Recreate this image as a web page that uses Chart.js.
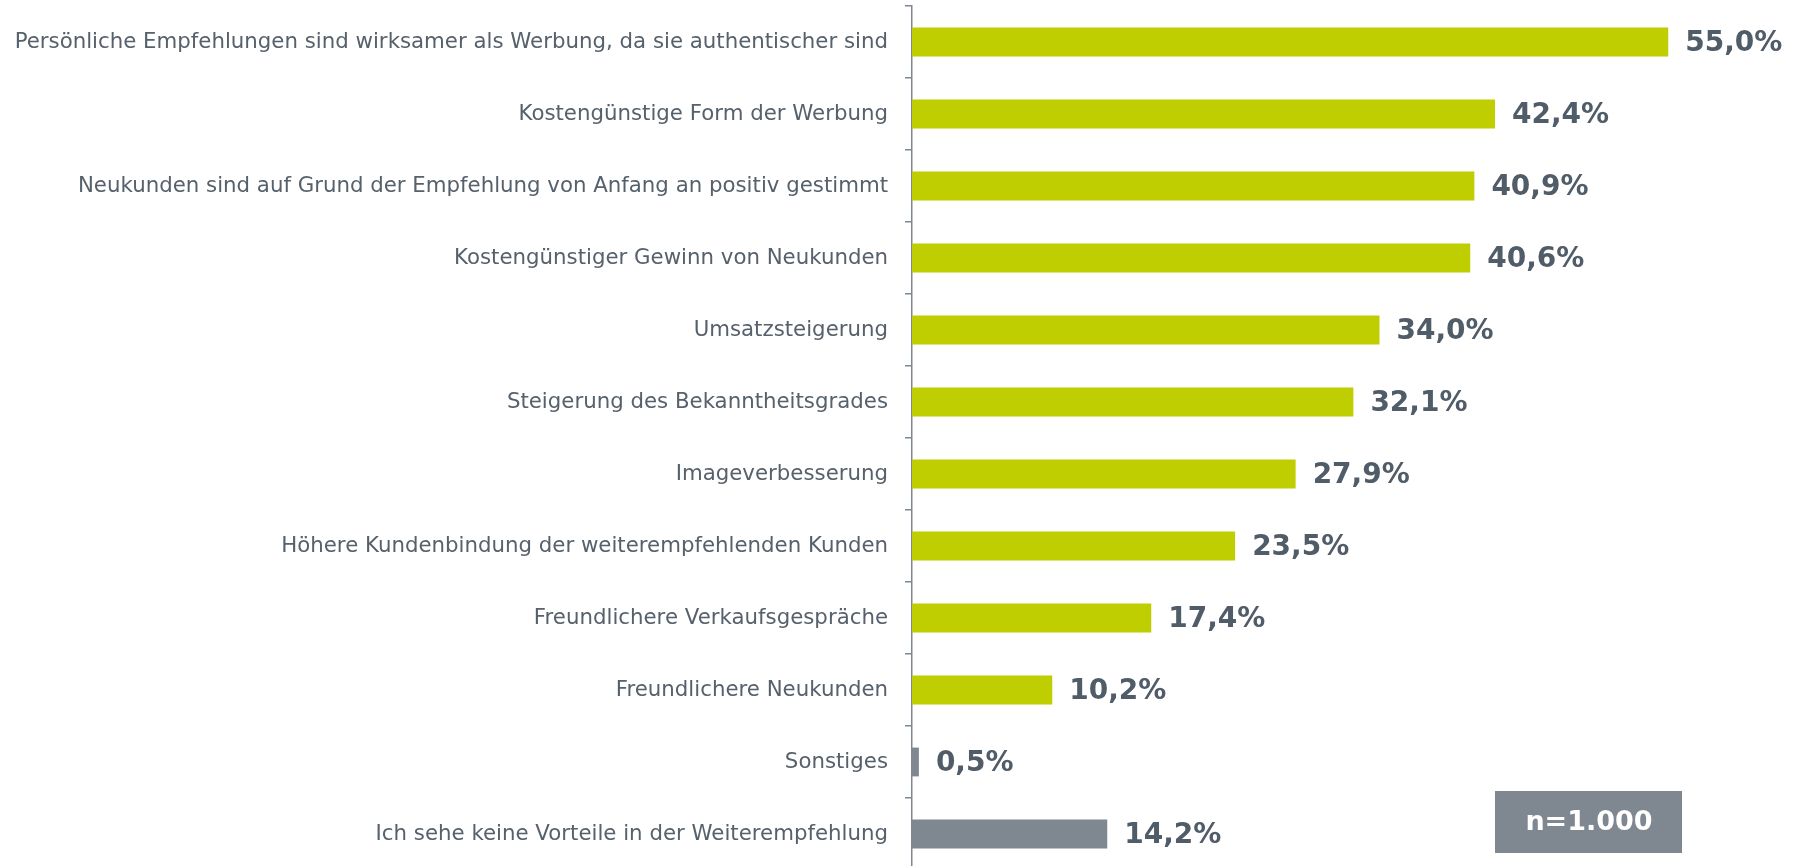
<!DOCTYPE html>
<html>
<head>
<meta charset="utf-8">
<script src="https://cdn.jsdelivr.net/npm/chart.js@4.4.1/dist/chart.umd.min.js"></script>
<style>
  html, body { margin: 0; padding: 0; background: #fff; overflow: hidden; }
  #wrap { position: relative; width: 1799px; height: 872px; }
</style>
</head>
<body>
<div id="wrap"><canvas id="c"></canvas></div>
<script>
const categories = [
  "Persönliche Empfehlungen sind wirksamer als Werbung, da sie authentischer sind",
  "Kostengünstige Form der Werbung",
  "Neukunden sind auf Grund der Empfehlung von Anfang an positiv gestimmt",
  "Kostengünstiger Gewinn von Neukunden",
  "Umsatzsteigerung",
  "Steigerung des Bekanntheitsgrades",
  "Imageverbesserung",
  "Höhere Kundenbindung der weiterempfehlenden Kunden",
  "Freundlichere Verkaufsgespräche",
  "Freundlichere Neukunden",
  "Sonstiges",
  "Ich sehe keine Vorteile in der Weiterempfehlung"
];
const values = [55.0, 42.4, 40.9, 40.6, 34.0, 32.1, 27.9, 23.5, 17.4, 10.2, 0.5, 14.2];
const valueLabels = ["55,0%", "42,4%", "40,9%", "40,6%", "34,0%", "32,1%", "27,9%", "23,5%", "17,4%", "10,2%", "0,5%", "14,2%"];
const barColors = ["#BFCE00","#BFCE00","#BFCE00","#BFCE00","#BFCE00","#BFCE00","#BFCE00","#BFCE00","#BFCE00","#BFCE00","#7F8790","#7F8790"];
const sampleNote = "n=1.000";

const valueLabelPlugin = {
  id: 'valueLabels',
  afterDatasetsDraw(chart) {
    const ctx = chart.ctx;
    const meta = chart.getDatasetMeta(0);
    ctx.save();
    ctx.font = "bold 28px 'DejaVu Sans'";
    ctx.fillStyle = "#505C68";
    ctx.textAlign = "left";
    ctx.textBaseline = "middle";
    meta.data.forEach((bar, i) => {
      ctx.fillText(valueLabels[i], bar.x + 17, bar.y + 2);
    });
    ctx.restore();
  }
};

const notePlugin = {
  id: 'note',
  afterDraw(chart) {
    const ctx = chart.ctx;
    ctx.save();
    ctx.fillStyle = "#7F8790";
    ctx.fillRect(1495, 791, 187, 62);
    ctx.fillStyle = "#FFFFFF";
    ctx.font = "bold 27px 'DejaVu Sans'";
    ctx.textAlign = "center";
    ctx.textBaseline = "middle";
    ctx.fillText(sampleNote, 1589, 823);
    ctx.restore();
  }
};

new Chart(document.getElementById('c'), {
  type: 'bar',
  data: {
    labels: categories,
    datasets: [{
      data: values,
      backgroundColor: barColors,
      borderWidth: 0,
      barPercentage: 0.4,
      categoryPercentage: 1.0
    }]
  },
  options: {
    indexAxis: 'y',
    responsive: true,
    maintainAspectRatio: false,
    animation: false,
    events: [],
    layout: { padding: { top: 6, bottom: 2, left: 0, right: 62 } },
    plugins: { legend: { display: false }, tooltip: { enabled: false } },
    scales: {
      x: {
        display: false,
        min: 0,
        max: 60
      },
      y: {
        offset: true,
        grid: {
          display: true,
          offset: true,
          drawOnChartArea: false,
          drawTicks: true,
          tickLength: 7,
          color: "#7F8790",
          lineWidth: 1.5
        },
        border: { display: true, color: "#7F8790", width: 1.5 },
        ticks: {
          color: "#56616C",
          font: { family: "'DejaVu Sans'", size: 21.3 },
          padding: 17,
          autoSkip: false
        },
        afterFit(scale) {
          scale.width = 912;
          scale.paddingTop = 0;
          scale.paddingBottom = 0;
        }
      }
    }
  },
  plugins: [valueLabelPlugin, notePlugin]
});
</script>
</body>
</html>
